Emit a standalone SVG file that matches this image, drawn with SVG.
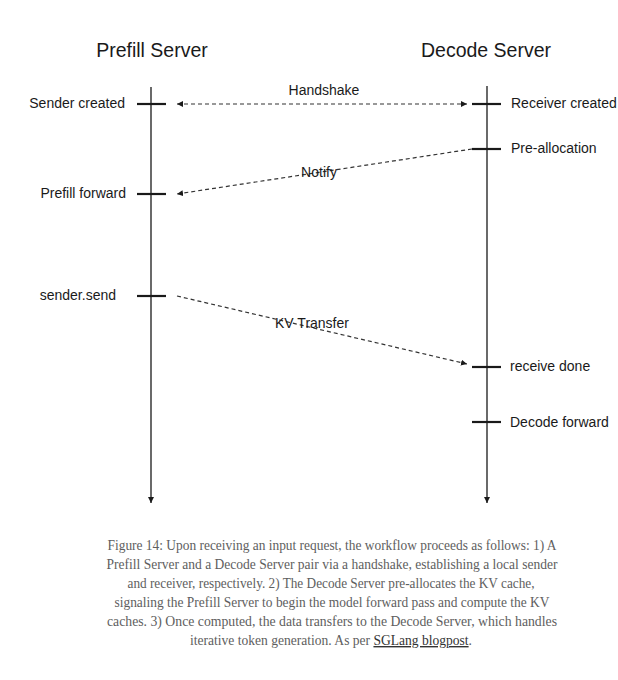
<svg xmlns="http://www.w3.org/2000/svg" width="618" height="680" viewBox="0 0 618 680">
  <style>
    .title { font-family: "Liberation Sans", Arial, sans-serif; font-size: 19.5px; fill: #1a1a1a; }
    .lbl { font-family: "Liberation Sans", Arial, sans-serif; font-size: 14px; fill: #1a1a1a; }
    .timeline { stroke: #1a1a1a; stroke-width: 1.3; fill: none; }
    .tick { stroke: #1a1a1a; stroke-width: 2.2; fill: none; }
    .msg { stroke: #333; stroke-width: 1.2; stroke-dasharray: 4 3; fill: none; }
    .cap { font-family: "Liberation Serif", "Times New Roman", serif; font-size: 14px; fill: #5e5e5e; }
    .link { fill: #333; text-decoration: underline; }
  </style>
  <defs>
    <marker id="ah" markerUnits="userSpaceOnUse" markerWidth="8" markerHeight="8" refX="6" refY="3" orient="auto-start-reverse">
      <path d="M0,0 L6,3 L0,6 Z" fill="#1a1a1a"/>
    </marker>
  </defs>

  <rect width="618" height="680" fill="#ffffff"/>

  <g id="prefill-server">
    <text class="title" x="152" y="57" text-anchor="middle">Prefill Server</text>
    <line class="timeline" x1="151" y1="87" x2="151" y2="503" marker-end="url(#ah)"/>
  </g>
  <g id="decode-server">
    <text class="title" x="486" y="57" text-anchor="middle">Decode Server</text>
    <line class="timeline" x1="487" y1="86" x2="487" y2="503" marker-end="url(#ah)"/>
  </g>

  <g id="sender-created">
    <line class="tick" x1="137" y1="104" x2="166" y2="104"/>
    <text class="lbl" x="125" y="108" text-anchor="end">Sender created</text>
  </g>
  <g id="prefill-forward">
    <line class="tick" x1="137" y1="194" x2="166" y2="194"/>
    <text class="lbl" x="126" y="198" text-anchor="end">Prefill forward</text>
  </g>
  <g id="sender-send">
    <line class="tick" x1="137" y1="296" x2="166" y2="296"/>
    <text class="lbl" x="116" y="300" text-anchor="end">sender.send</text>
  </g>
  <g id="receiver-created">
    <line class="tick" x1="472" y1="104" x2="501" y2="104"/>
    <text class="lbl" x="511" y="108">Receiver created</text>
  </g>
  <g id="pre-allocation">
    <line class="tick" x1="472" y1="149" x2="501" y2="149"/>
    <text class="lbl" x="511" y="153">Pre-allocation</text>
  </g>
  <g id="receive-done">
    <line class="tick" x1="472" y1="367" x2="501" y2="367"/>
    <text class="lbl" x="510" y="371">receive done</text>
  </g>
  <g id="decode-forward">
    <line class="tick" x1="472" y1="422" x2="501" y2="422"/>
    <text class="lbl" x="510" y="427">Decode forward</text>
  </g>

  <g id="connectors">
    <line class="msg" x1="177" y1="104" x2="467" y2="104" marker-start="url(#ah)" marker-end="url(#ah)"/>
    <text class="lbl" x="324" y="95" text-anchor="middle">Handshake</text>
    <line class="msg" x1="472" y1="149" x2="177" y2="194" marker-end="url(#ah)"/>
    <text class="lbl" x="319" y="177" text-anchor="middle">Notify</text>
    <line class="msg" x1="177" y1="296" x2="467" y2="364" marker-end="url(#ah)"/>
    <text class="lbl" x="312" y="328" text-anchor="middle">KV Transfer</text>
  </g>

  <g id="caption">
    <text class="cap" x="332" y="550" text-anchor="middle" textLength="449" lengthAdjust="spacingAndGlyphs">Figure 14: Upon receiving an input request, the workflow proceeds as follows: 1) A</text>
    <text class="cap" x="332" y="569" text-anchor="middle" textLength="451" lengthAdjust="spacingAndGlyphs">Prefill Server and a Decode Server pair via a handshake, establishing a local sender</text>
    <text class="cap" x="331" y="588" text-anchor="middle" textLength="407" lengthAdjust="spacingAndGlyphs">and receiver, respectively. 2) The Decode Server pre-allocates the KV cache,</text>
    <text class="cap" x="332" y="607" text-anchor="middle" textLength="435" lengthAdjust="spacingAndGlyphs">signaling the Prefill Server to begin the model forward pass and compute the KV</text>
    <text class="cap" x="332" y="626" text-anchor="middle" textLength="450" lengthAdjust="spacingAndGlyphs">caches. 3) Once computed, the data transfers to the Decode Server, which handles</text>
    <text class="cap" x="331" y="645" text-anchor="middle" textLength="282" lengthAdjust="spacingAndGlyphs">iterative token generation. As per <tspan class="link">SGLang blogpost</tspan>.</text>
  </g>
</svg>
